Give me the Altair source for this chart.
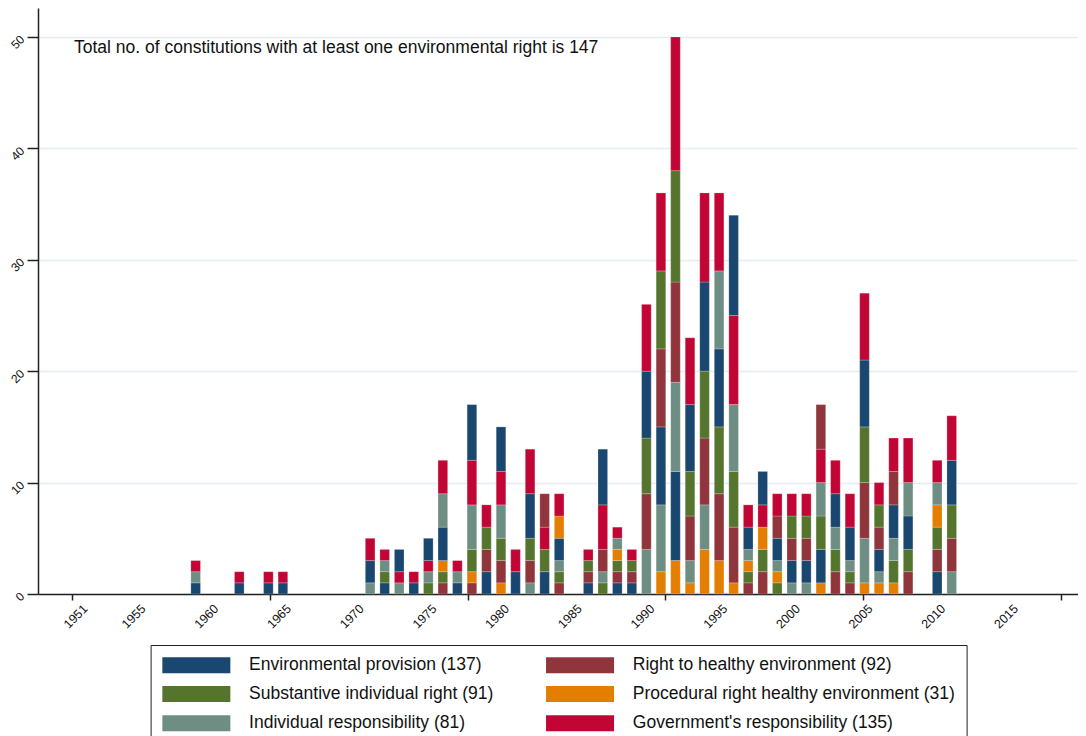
import altair as alt
import pandas as pd

# ---- data ----
years = [1960, 1963, 1965, 1966, 1972, 1973, 1974, 1975, 1976, 1977, 1978,
         1979, 1980, 1981, 1982, 1983, 1984, 1985, 1987, 1988, 1989, 1990,
         1991, 1992, 1993, 1994, 1995, 1996, 1997, 1998, 1999, 2000, 2001,
         2002, 2003, 2004, 2005, 2006, 2007, 2008, 2009, 2011, 2012]

env_provision = [1, 1, 1, 1, 2, 1, 2, 1, 2, 3, 1, 5, 2, 4, 2, 4, 2, 2, 1, 5, 1, 1,
                 6, 7, 8, 6, 8, 7, 9, 2, 3, 2, 2, 2, 3, 3, 3, 6, 2, 3, 3, 2, 4]
substantive = [0, 0, 0, 0, 0, 1, 0, 0, 1, 1, 0, 2, 2, 2, 0, 2, 2, 1, 1, 1, 1, 1,
               5, 7, 10, 4, 6, 6, 5, 1, 2, 1, 2, 2, 3, 2, 1, 5, 2, 2, 2, 2, 3]
individual = [1, 0, 0, 0, 1, 1, 1, 0, 1, 3, 1, 4, 0, 3, 0, 1, 0, 1, 0, 1, 1, 0,
              4, 6, 8, 2, 4, 7, 6, 1, 0, 1, 1, 1, 3, 2, 1, 4, 1, 2, 3, 2, 2]
healthy = [0, 0, 0, 0, 0, 0, 0, 0, 0, 1, 0, 1, 2, 2, 0, 2, 3, 1, 1, 2, 1, 1,
           5, 7, 9, 4, 6, 6, 5, 1, 2, 2, 2, 2, 4, 2, 1, 5, 2, 3, 2, 2, 3]
procedural = [0, 0, 0, 0, 0, 0, 0, 0, 0, 1, 0, 1, 0, 1, 0, 0, 0, 2, 0, 0, 1, 0,
              0, 2, 3, 1, 4, 3, 1, 1, 2, 1, 0, 0, 1, 0, 0, 1, 1, 1, 0, 2, 0]
government = [1, 1, 1, 1, 2, 1, 1, 1, 1, 3, 1, 4, 2, 3, 2, 4, 2, 2, 1, 4, 1, 1,
              6, 7, 12, 6, 8, 7, 8, 2, 2, 2, 2, 2, 3, 3, 3, 6, 2, 3, 4, 2, 4]

# stacking order of the segments in each bar, bottom to top
stack_order = ["EIG", "EG", "EG", "EG", "IEG", "ESIG", "IGE", "EG", "SIGE",
               "HSPEIG", "EIG", "HPSIGE", "EHSG", "PHSIGE", "EG", "IHSEG",
               "ESGH", "HSIEPG", "EHSG", "SIHGE", "EHSPIG", "EHSG", "IHSEG",
               "PIEHSG", "PEIHSG", "PIHSEG", "PIHSEG", "PHSEIG", "PHSIGE",
               "HSPIEG", "HSPGE", "SPIEHG", "IEHSG", "IEHSG", "PESIGH",
               "HSIEG", "HSIEG", "PIHSEG", "PIEHSG", "PSIEHG", "HSEIG",
               "EHSPIG", "IHSEG"]

labels = {
    "E": "Environmental provision (137)",
    "H": "Right to healthy environment (92)",
    "S": "Substantive individual right (91)",
    "P": "Procedural right healthy environment (31)",
    "I": "Individual responsibility (81)",
    "G": "Government's responsibility (135)",
}
colors = {"E": "#1a476f", "H": "#90353b", "S": "#55752f",
          "P": "#e37e00", "I": "#6e8e84", "G": "#c10534"}
series = {"E": env_provision, "S": substantive, "I": individual,
          "H": healthy, "P": procedural, "G": government}

label_years = [1951, 1955, 1960, 1965, 1970, 1975, 1980, 1985, 1990, 1995,
               2000, 2005, 2010, 2015]
tick_positions = [1951.5, 1965.1, 1978.7, 1992.3, 2005.9, 2019.5]
annotation = "Total no. of constitutions with at least one environmental right is 147"

rows = []
for i, y in enumerate(years):
    for k, code in enumerate(stack_order[i]):
        v = series[code][i]
        if v > 0:
            rows.append({"year": y, "cat": labels[code], "n": v, "pos": k})
df = pd.DataFrame(rows)

# legend fills column by column
legend_codes = ["E", "S", "I", "H", "P", "G"]
dom = [labels[c] for c in legend_codes]
rng = [colors[c] for c in legend_codes]

label_list = ",".join(str(v) for v in label_years)

x_axis = alt.Axis(
    values=tick_positions + label_years,
    labelExpr=f"indexof([{label_list}], datum.value) >= 0 ? format(datum.value, 'd') : ''",
    title=None, grid=False, labelAngle=315, labelAlign="right", labelBaseline="top",
    labelOffset=16, labelPadding=2, tickSize=6, labelFontSize=12.5, labelColor="#111",
    labelOverlap=False, labelFlush=False, labelBound=False,
    tickOpacity={"condition": {"test": "datum.value % 1 != 0", "value": 1}, "value": 0},
    tickColor="#222", tickWidth=1.5, domainColor="#222", domainWidth=1.5,
)
y_axis = alt.Axis(
    values=[0, 10, 20, 30, 40, 50], title=None, grid=True, gridColor="#e4edf0",
    gridWidth=1.5, labelAngle=315, labelAlign="right", labelBaseline="middle",
    labelPadding=5, tickSize=11, tickColor="#222", tickWidth=1.5,
    domainColor="#222", domainWidth=1.5, labelFontSize=12, labelColor="#111",
)

bars = alt.Chart(df).mark_bar(size=9.6, stroke="white", strokeWidth=0.6,
                              strokeOpacity=0.35).encode(
    x=alt.X("year:Q", scale=alt.Scale(domain=[1949.5, 2020.34], nice=False, zero=False),
            axis=x_axis),
    y=alt.Y("sum(n):Q", stack="zero", scale=alt.Scale(domain=[0, 52.6], nice=False),
            axis=y_axis),
    color=alt.Color("cat:N", scale=alt.Scale(domain=dom, range=rng),
                    legend=alt.Legend(
                        title=None, orient="none", legendX=112.6, legendY=637,
                        columns=2, symbolType="M-4.25,-1H4.25V1H-4.25Z",
                        symbolSize=256, symbolOffset=26, labelOffset=44,
                        labelFontSize=17.5, labelLimit=600, labelColor="#111",
                        rowPadding=10.2, columnPadding=51.7, padding=11,
                        strokeColor="#222", symbolStrokeWidth=0,
                        symbolOpacity=1, gridAlign="each")),
    order=alt.Order("pos:Q", sort="ascending"),
)

note = alt.Chart(pd.DataFrame({"t": [annotation]})).mark_text(
    align="left", baseline="alphabetic", fontSize=17.5, color="#111"
).encode(text="t:N", x=alt.value(36), y=alt.value(45))

chart = alt.layer(bars, note).properties(
    width=1040, height=586,
    autosize=alt.AutoSizeParams(type="none"),
    padding={"left": 30, "top": 0, "right": 0, "bottom": 142},
).configure(font="Liberation Sans").configure_view(stroke=None)

chart.save("out.html", embed_options={"renderer": "svg", "actions": False})
